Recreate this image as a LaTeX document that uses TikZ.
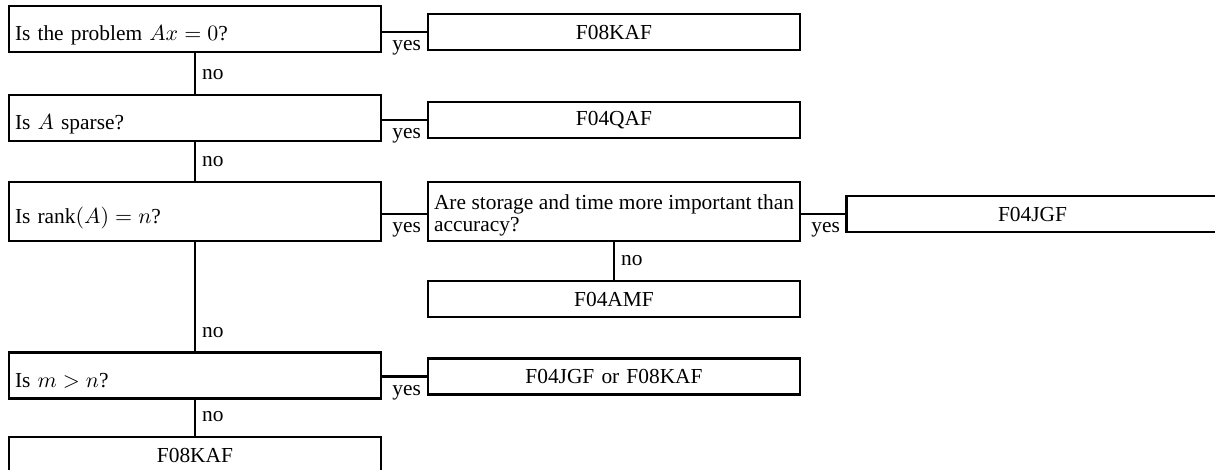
\documentclass[tikz,border=0pt]{standalone}
\usepackage{fontspec}
\setmainfont{Liberation Serif}

\begin{document}
\begin{tikzpicture}[x=1pt, y=1pt, line width=1.2pt,
    font=\fontsize{10.7}{11}\selectfont,
    qbox/.style={draw, text width=180pt, inner xsep=3pt, inner ysep=0pt, align=left,
        text height=17.5pt, text depth=5.5pt, minimum height=23pt},
    abox/.style={draw, text width=180pt, inner xsep=3pt, inner ysep=0pt, align=center,
        minimum height=18pt},
    yeslab/.style={anchor=base west, inner sep=0pt, xshift=4.5pt, yshift=-9.5pt},
    nolab/.style={anchor=base west, inner sep=0pt, xshift=3pt, yshift=7pt}]
    \clip (0,0) rectangle (607.5,-235);
    % questions
    \node[qbox] (q1) at (97.5,-14.5) {Is the problem $Ax=0$?};
    \node[qbox] (q2) at (97.5,-59) {Is $A$ sparse?};
    \node[qbox, minimum height=29.5pt] (q3) at (97.5,-105.75) {Is $\mathrm{rank}(A)=n$?};
    \node[qbox] (q4) at (97.5,-187.75) {Is $m>n$?};
    \node[abox, align=justify, text height=8pt, text depth=9.5pt, minimum height=29.5pt]
        (st) at (307,-105.75) {Are storage and time more important than accuracy?};
    % routines
    \node[abox] (r1) at (307,-16) {F08KAF};
    \node[abox] (r2) at (307,-60) {F04QAF};
    \node[abox] (r3) at (516.25,-107) {F04JGF};
    \node[abox] (r4) at (307,-149.5) {F04AMF};
    \node[abox] (r5) at (307,-188.25) {F04JGF or F08KAF};
    \node[abox] (r6) at (97.5,-227.5) {F08KAF};
    % yes branches
    \draw (r1.west -| q1.east) -- node[pos=0, yeslab] {yes} (r1.west);
    \draw (r2.west -| q2.east) -- node[pos=0, yeslab] {yes} (r2.west);
    \draw (q3.east |- r3.west) -- node[pos=0, yeslab] {yes} (st.west |- r3.west);
    \draw (r3.west -| st.east) -- node[pos=0, yeslab] {yes} (r3.west);
    \draw (r5.west -| q4.east) -- node[pos=0, yeslab] {yes} (r5.west);
    % no branches
    \draw (q1) -- node[pos=1, nolab] {no} (q2);
    \draw (q2) -- node[pos=1, nolab] {no} (q3);
    \draw (q3) -- node[pos=1, nolab] {no} (q4);
    \draw (q4) -- node[pos=1, nolab] {no} (r6);
    \draw (st) -- node[pos=1, nolab] {no} (r4);
\end{tikzpicture}
\end{document}
